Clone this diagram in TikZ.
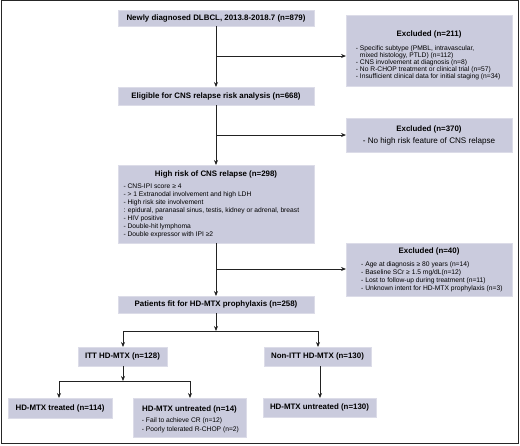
\documentclass[tikz,border=0pt]{standalone}
\usepackage{fontspec}
\setmainfont{Liberation Sans}
\usetikzlibrary{arrows.meta}
\definecolor{boxfill}{HTML}{CACBDD}
\definecolor{boxedge}{HTML}{DCDCE8}
\definecolor{linecol}{HTML}{222222}
\tikzset{
 box/.style={fill=boxfill, draw=boxedge, line width=0.8pt, inner sep=0pt, outer sep=0pt},
 head/.style={font=\fontsize{7.9}{9}\selectfont\bfseries, inner sep=0pt},
 listtxt/.style={align=left, inner sep=0pt, anchor=north west},
 conn/.style={draw=linecol, line width=0.8pt, line cap=rect},
 arr/.style={draw=linecol, line width=0.8pt, -{Stealth[length=5pt,width=4pt]}},
}
\begin{document}
\begin{tikzpicture}[x=1pt,y=-1pt]
\useasboundingbox (0,0) rectangle (520,445);
\draw[line width=1pt, draw=black!85] (1,0.8) rectangle (518.8,443.6);

% main column
\node[box, head, minimum width=196pt, minimum height=16pt] (A) at (216,18) {Newly diagnosed DLBCL, 2013.8-2018.7 (n=879)};
\node[box, head, minimum width=196pt, minimum height=18pt] (B) at (216,96) {Eligible for CNS relapse risk analysis (n=668)};
\node[box, minimum width=196pt, minimum height=78pt] (C) at (216,204) {};
\node[head] (Ch) at (216,174.3) {High risk of CNS relapse (n=298)};
\node[listtxt, font=\fontsize{6.7}{8}\selectfont] (Cl) at (123.3,183.6) {- CNS-IPI score ≥ 4\\- \textgreater{} 1 Extranodal involvement and high LDH\\- High risk site involvement\\: epidural, paranasal sinus, testis, kidney or adrenal, breast\\- HIV positive\\- Double-hit lymphoma\\- Double expressor with IPI ≥2};
\node[box, head, minimum width=196pt, minimum height=17pt] (D) at (216,304.5) {Patients fit for HD-MTX prophylaxis (n=258)};

% excluded boxes
\node[box, minimum width=166pt, minimum height=71pt] (E1) at (429,50.5) {};
\node[head] (E1h) at (429,34.3) {Excluded (n=211)};
\node[listtxt, font=\fontsize{6.7}{7}\selectfont] (E1l) at (355.7,45.4) {- Specific subtype (PMBL, intravascular,\\\hphantom{- }mixed histology, PTLD) (n=112)\\- CNS involvement at diagnosis (n=8)\\- No R-CHOP treatment or clinical trial (n=57)\\- Insufficient clinical data for initial staging (n=34)};

\node[box, minimum width=166pt, minimum height=34pt] (E2) at (429,135) {};
\node[head] (E2h) at (429,129) {Excluded (n=370)};
\node[font=\fontsize{8.1}{9}\selectfont, inner sep=0pt] (E2t) at (429,141.5) {- No high risk feature of CNS relapse};

\node[box, minimum width=166pt, minimum height=53pt] (E3) at (429,269.5) {};
\node[head] (E3h) at (429,251.7) {Excluded (n=40)};
\node[listtxt, font=\fontsize{6.7}{8}\selectfont] (E3l) at (361,261) {- Age at diagnosis ≥ 80 years (n=14)\\- Baseline SCr ≥ 1.5 mg/dL(n=12)\\- Lost to follow-up during treatment (n=11)\\- Unknown intent for HD-MTX prophylaxis (n=3)};

% lower tiers
\node[box, head, minimum width=89pt, minimum height=19pt] (F) at (122.5,356.5) {ITT HD-MTX (n=128)};
\node[box, head, minimum width=107pt, minimum height=19pt] (G) at (317.5,356.5) {Non-ITT HD-MTX (n=130)};
\node[box, head, minimum width=104pt, minimum height=20pt] (H) at (60,408) {HD-MTX treated (n=114)};
\node[box, minimum width=113pt, minimum height=39pt] (I) at (189.5,417.5) {};
\node[head] (Ih) at (189.5,409) {HD-MTX untreated (n=14)};
\node[listtxt, font=\fontsize{6.7}{8.5}\selectfont] (Il) at (141.7,417.6) {- Fail to achieve CR (n=12)\\- Poorly tolerated R-CHOP (n=2)};
\node[box, head, minimum width=113pt, minimum height=19pt] (J) at (319.5,407.5) {HD-MTX untreated (n=130)};

% connectors
\draw[arr] (A) -- (B);
\draw[arr] (B) -- (C);
\draw[arr] (C) -- (D);
\coordinate (j1) at (216,56);
\coordinate (j2) at (216,135);
\coordinate (j3) at (216,269);
\draw[arr] (j1) -- (j1 -| E1.west);
\draw[arr] (j2) -- (j2 -| E2.west);
\draw[arr] (j3) -- (j3 -| E3.west);

\coordinate (s1) at (216,331);
\coordinate (s1l) at (123,331);
\coordinate (s1r) at (318,331);
\draw[arr] (D) -- (s1);
\draw[conn] (s1l) -- (s1r);
\draw[arr] (s1l) -- (s1l |- F.north);
\draw[arr] (s1r) -- (s1r |- G.north);

\coordinate (s2) at (123,381);
\coordinate (s2l) at (59,381);
\coordinate (s2r) at (190,381);
\draw[arr] (s2 |- F.south) -- (s2);
\draw[conn] (s2l) -- (s2r);
\draw[arr] (s2l) -- (s2l |- H.north);
\draw[arr] (s2r) -- (s2r |- I.north);

\coordinate (g1) at (320,366);
\draw[arr] (g1) -- (g1 |- J.north);
\end{tikzpicture}
\end{document}
